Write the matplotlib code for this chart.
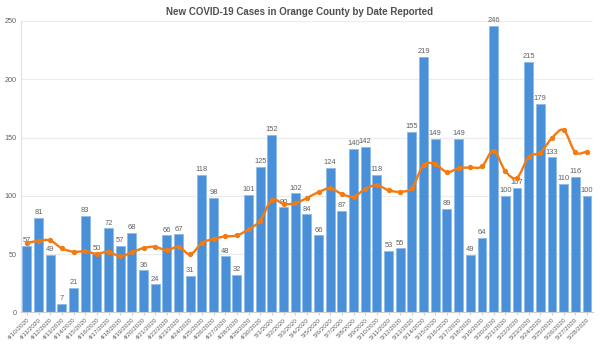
import matplotlib
matplotlib.use("Agg")
import matplotlib.pyplot as plt
import numpy as np
from matplotlib.path import Path
from matplotlib.patches import PathPatch

plt.rcParams['font.family'] = ['Liberation Sans', 'DejaVu Sans']

dates = ["4/10/2020", "4/11/2020", "4/12/2020", "4/13/2020", "4/14/2020", "4/15/2020",
         "4/16/2020", "4/17/2020", "4/18/2020", "4/19/2020", "4/20/2020", "4/21/2020",
         "4/22/2020", "4/23/2020", "4/24/2020", "4/25/2020", "4/26/2020", "4/27/2020",
         "4/28/2020", "4/29/2020", "4/30/2020", "5/1/2020", "5/2/2020", "5/3/2020",
         "5/4/2020", "5/5/2020", "5/6/2020", "5/7/2020", "5/8/2020", "5/9/2020",
         "5/10/2020", "5/11/2020", "5/12/2020", "5/13/2020", "5/14/2020", "5/15/2020",
         "5/16/2020", "5/17/2020", "5/18/2020", "5/19/2020", "5/20/2020", "5/21/2020",
         "5/22/2020", "5/23/2020", "5/24/2020", "5/25/2020", "5/26/2020", "5/27/2020",
         "5/28/2020"]
cases = [57, 81, 49, 7, 21, 83, 50, 72, 57, 68, 36, 24, 66, 67, 31, 118, 98, 48, 32, 101,
         125, 152, 90, 102, 84, 66, 124, 87, 140, 142, 118, 53, 55, 155, 219, 149, 89, 149,
         49, 64, 246, 100, 107, 215, 179, 133, 110, 116, 100]
avg = [59.5, 61.4, 61.7, 54.9, 52.0, 52.3, 50.3, 52.0, 48.0, 51.5, 55.2, 56.3, 53.2, 56.3,
       49.8, 59.4, 63.1, 65.1, 66.0, 71.2, 78.8, 96.4, 93.0, 93.6, 98.1, 103.2, 106.4, 101.5,
       99.3, 105.8, 109.2, 104.7, 103.5, 106.7, 126.5, 127.1, 120.3, 123.7, 124.3, 125.2,
       138.8, 121.2, 115.5, 133.4, 137.1, 149.6, 156.4, 137.4, 138.0]
yticks = [0, 50, 100, 150, 200, 250]
title = "New COVID-19 Cases in Orange County by Date Reported"

blue = "#4A90D9"
orange = "#F57A0F"
grey = "#606060"

fig = plt.figure(figsize=(6.0, 3.44), dpi=100)
ax = fig.add_axes([0.035, 0.092, 0.953, 0.847])

x = np.arange(len(cases))
ax.bar(x, cases, width=0.76, color=blue, edgecolor="#8DBBEA", linewidth=0.6, zorder=2)
for xi, v in zip(x, cases):
    ax.text(xi, v + 1.5, str(v), ha="center", va="bottom", fontsize=5.4, color=grey, zorder=3)

# smooth line through the average points (Catmull-Rom as cubic Bezier)
pts = np.column_stack([x, avg]).astype(float)
verts = [tuple(pts[0])]
codes = [Path.MOVETO]
n = len(pts)
for i in range(n - 1):
    p0 = pts[i - 1] if i > 0 else pts[i]
    p1 = pts[i]
    p2 = pts[i + 1]
    p3 = pts[i + 2] if i + 2 < n else pts[i + 1]
    c1 = p1 + (p2 - p0) / 6.0
    c2 = p2 - (p3 - p1) / 6.0
    verts += [tuple(c1), tuple(c2), tuple(p2)]
    codes += [Path.CURVE4] * 3
ax.add_patch(PathPatch(Path(verts, codes), facecolor="none", edgecolor=orange,
                       linewidth=1.7, zorder=4))
ax.plot(x, avg, linestyle="none", marker="o", markersize=2.8, color=orange, zorder=5)

ax.set_xlim(-0.5, len(cases) - 0.5)
ax.set_ylim(0, 250)
ax.set_yticks(yticks)
ax.set_yticklabels([str(t) for t in yticks], fontsize=5.2, color=grey)
ax.set_xticks(x)
ax.set_xticklabels(dates, rotation=45, ha="right", rotation_mode="anchor", fontsize=4.6, color=grey)
ax.tick_params(axis="y", length=0, pad=3)
ax.tick_params(axis="x", length=2.5, color="#d0d0d0", pad=1.0)
ax.grid(axis="y", color="#ececec", linewidth=0.8, zorder=0)
ax.set_axisbelow(True)
for s in ["top", "right"]:
    ax.spines[s].set_visible(False)
ax.spines["left"].set_color("#e0e0e0")
ax.spines["bottom"].set_color("#d0d0d0")
ax.spines["left"].set_linewidth(0.8)
ax.spines["bottom"].set_linewidth(0.8)

fig.text(0.5, 0.965, title, ha="center", va="center", fontsize=7, color="#505050",
         fontweight="bold")

fig.savefig("out.png", dpi=100)
